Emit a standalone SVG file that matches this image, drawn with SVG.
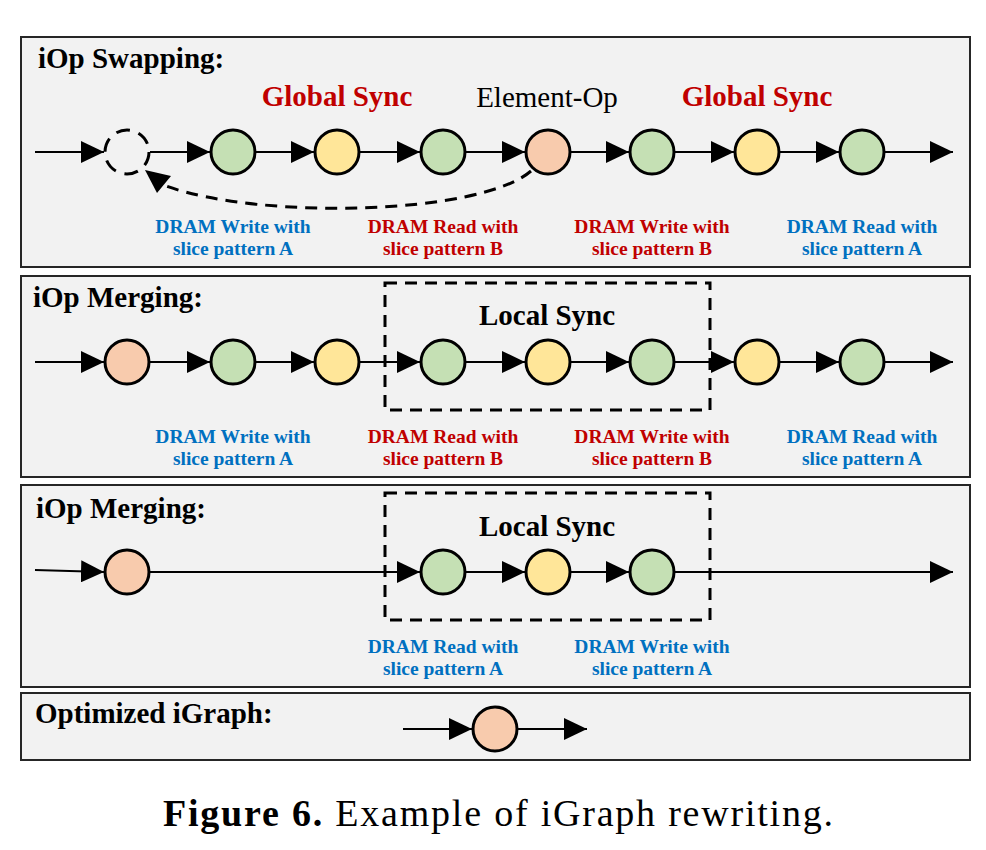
<svg xmlns="http://www.w3.org/2000/svg" width="986" height="850" viewBox="0 0 986 850">
<style>
.panel{fill:#F2F2F2;stroke:#262626;stroke-width:2}
.n{stroke:#000;stroke-width:3}
.g{fill:#C5E0B4}.y{fill:#FFE699}.o{fill:#F8CBAD}
.e{stroke:#000;stroke-width:2;fill:none}
.dash{fill:none;stroke:#000;stroke-width:3;stroke-dasharray:12 8}
.t{font-family:"Liberation Serif","Times New Roman",serif;font-weight:bold;font-size:29px;fill:#000}
.red{fill:#C00000}
.reg{font-weight:normal}
.lb{font-family:"Liberation Serif","Times New Roman",serif;font-weight:bold;font-size:19.5px;text-anchor:middle}
.blue{fill:#0070C0}
.lr{fill:#C00000}
</style>
<defs>
<marker id="ah" markerUnits="userSpaceOnUse" markerWidth="24" markerHeight="22" refX="23" refY="11" orient="auto">
<path d="M0,0 L23,11 L0,22 z" fill="#000"/>
</marker>
</defs>
<rect class="panel" x="21" y="37" width="949" height="230"/>
<rect class="panel" x="21" y="276" width="949" height="201"/>
<rect class="panel" x="21" y="485" width="949" height="202"/>
<rect class="panel" x="21" y="693" width="949" height="67"/>
<rect class="dash" x="385" y="283" width="325" height="127"/>
<rect class="dash" x="385" y="493" width="325" height="127"/>
<g id="titles">
<text class="t" x="38" y="68">iOp Swapping:</text>
<text class="t red" x="337" y="106" text-anchor="middle">Global Sync</text>
<text class="t reg" x="547" y="107" text-anchor="middle">Element-Op</text>
<text class="t red" x="757" y="106" text-anchor="middle">Global Sync</text>
<text class="t" x="33" y="307">iOp Merging:</text>
<text class="t" x="547" y="325" text-anchor="middle">Local Sync</text>
<text class="t" x="36" y="518">iOp Merging:</text>
<text class="t" x="547" y="536" text-anchor="middle">Local Sync</text>
<text class="t" x="35" y="723">Optimized iGraph:</text>
</g>
<g id="connectors">
<line class="e" x1="35" y1="152" x2="104" y2="152" marker-end="url(#ah)"/>
<line class="e" x1="150" y1="152" x2="210" y2="152" marker-end="url(#ah)"/>
<line class="e" x1="256" y1="152" x2="314" y2="152" marker-end="url(#ah)"/>
<line class="e" x1="360" y1="152" x2="420" y2="152" marker-end="url(#ah)"/>
<line class="e" x1="466" y1="152" x2="525" y2="152" marker-end="url(#ah)"/>
<line class="e" x1="571" y1="152" x2="629" y2="152" marker-end="url(#ah)"/>
<line class="e" x1="675" y1="152" x2="734" y2="152" marker-end="url(#ah)"/>
<line class="e" x1="780" y1="152" x2="839" y2="152" marker-end="url(#ah)"/>
<line class="e" x1="885" y1="152" x2="953" y2="152" marker-end="url(#ah)"/>
<path class="dash" d="M531,171 C480,215 260,220 166,186"/>
<polygon points="145,170 171,176 157,193" fill="#000"/>
<line class="e" x1="35" y1="362" x2="104" y2="362" marker-end="url(#ah)"/>
<line class="e" x1="150" y1="362" x2="210" y2="362" marker-end="url(#ah)"/>
<line class="e" x1="256" y1="362" x2="314" y2="362" marker-end="url(#ah)"/>
<line class="e" x1="360" y1="362" x2="420" y2="362" marker-end="url(#ah)"/>
<line class="e" x1="466" y1="362" x2="525" y2="362" marker-end="url(#ah)"/>
<line class="e" x1="571" y1="362" x2="629" y2="362" marker-end="url(#ah)"/>
<line class="e" x1="675" y1="362" x2="734" y2="362" marker-end="url(#ah)"/>
<line class="e" x1="780" y1="362" x2="839" y2="362" marker-end="url(#ah)"/>
<line class="e" x1="885" y1="362" x2="953" y2="362" marker-end="url(#ah)"/>
<line class="e" x1="35" y1="570" x2="104" y2="572" marker-end="url(#ah)"/>
<line class="e" x1="150" y1="572" x2="420" y2="572" marker-end="url(#ah)"/>
<line class="e" x1="466" y1="572" x2="525" y2="572" marker-end="url(#ah)"/>
<line class="e" x1="571" y1="572" x2="629" y2="572" marker-end="url(#ah)"/>
<line class="e" x1="675" y1="572" x2="953" y2="572" marker-end="url(#ah)"/>
<line class="e" x1="403" y1="729" x2="472" y2="729" marker-end="url(#ah)"/>
<line class="e" x1="518" y1="729" x2="587" y2="729" marker-end="url(#ah)"/>
</g>
<g id="p1-n0"><circle cx="127" cy="152" r="22" fill="#F2F2F2" stroke="#000" stroke-width="3" stroke-dasharray="14 9"/></g>
<g id="p1-n1"><circle class="n g" cx="233" cy="152" r="22"/></g>
<g id="p1-n2"><circle class="n y" cx="337" cy="152" r="22"/></g>
<g id="p1-n3"><circle class="n g" cx="443" cy="152" r="22"/></g>
<g id="p1-n4"><circle class="n o" cx="548" cy="152" r="22"/></g>
<g id="p1-n5"><circle class="n g" cx="652" cy="152" r="22"/></g>
<g id="p1-n6"><circle class="n y" cx="757" cy="152" r="22"/></g>
<g id="p1-n7"><circle class="n g" cx="862" cy="152" r="22"/></g>
<g id="p2-n0"><circle class="n o" cx="127" cy="362" r="22"/></g>
<g id="p2-n1"><circle class="n g" cx="233" cy="362" r="22"/></g>
<g id="p2-n2"><circle class="n y" cx="337" cy="362" r="22"/></g>
<g id="p2-n3"><circle class="n g" cx="443" cy="362" r="22"/></g>
<g id="p2-n4"><circle class="n y" cx="548" cy="362" r="22"/></g>
<g id="p2-n5"><circle class="n g" cx="652" cy="362" r="22"/></g>
<g id="p2-n6"><circle class="n y" cx="757" cy="362" r="22"/></g>
<g id="p2-n7"><circle class="n g" cx="862" cy="362" r="22"/></g>
<g id="p3-n0"><circle class="n o" cx="127" cy="572" r="22"/></g>
<g id="p3-n1"><circle class="n g" cx="443" cy="572" r="22"/></g>
<g id="p3-n2"><circle class="n y" cx="548" cy="572" r="22"/></g>
<g id="p3-n3"><circle class="n g" cx="652" cy="572" r="22"/></g>
<g id="p4-n0"><circle class="n o" cx="495" cy="729" r="22"/></g>
<g id="labels">
<text class="lb blue" x="233" y="233">DRAM Write with</text>
<text class="lb blue" x="233" y="255">slice pattern A</text>
<text class="lb lr" x="443" y="233">DRAM Read with</text>
<text class="lb lr" x="443" y="255">slice pattern B</text>
<text class="lb lr" x="652" y="233">DRAM Write with</text>
<text class="lb lr" x="652" y="255">slice pattern B</text>
<text class="lb blue" x="862" y="233">DRAM Read with</text>
<text class="lb blue" x="862" y="255">slice pattern A</text>
<text class="lb blue" x="233" y="443">DRAM Write with</text>
<text class="lb blue" x="233" y="465">slice pattern A</text>
<text class="lb lr" x="443" y="443">DRAM Read with</text>
<text class="lb lr" x="443" y="465">slice pattern B</text>
<text class="lb lr" x="652" y="443">DRAM Write with</text>
<text class="lb lr" x="652" y="465">slice pattern B</text>
<text class="lb blue" x="862" y="443">DRAM Read with</text>
<text class="lb blue" x="862" y="465">slice pattern A</text>
<text class="lb blue" x="443" y="653">DRAM Read with</text>
<text class="lb blue" x="443" y="675">slice pattern A</text>
<text class="lb blue" x="652" y="653">DRAM Write with</text>
<text class="lb blue" x="652" y="675">slice pattern A</text>
</g>
<text x="163" y="826" font-family="'Liberation Serif','Times New Roman',serif" font-size="38" textLength="670" lengthAdjust="spacing"><tspan font-weight="bold">Figure 6.</tspan> Example of iGraph rewriting.</text>
</svg>
